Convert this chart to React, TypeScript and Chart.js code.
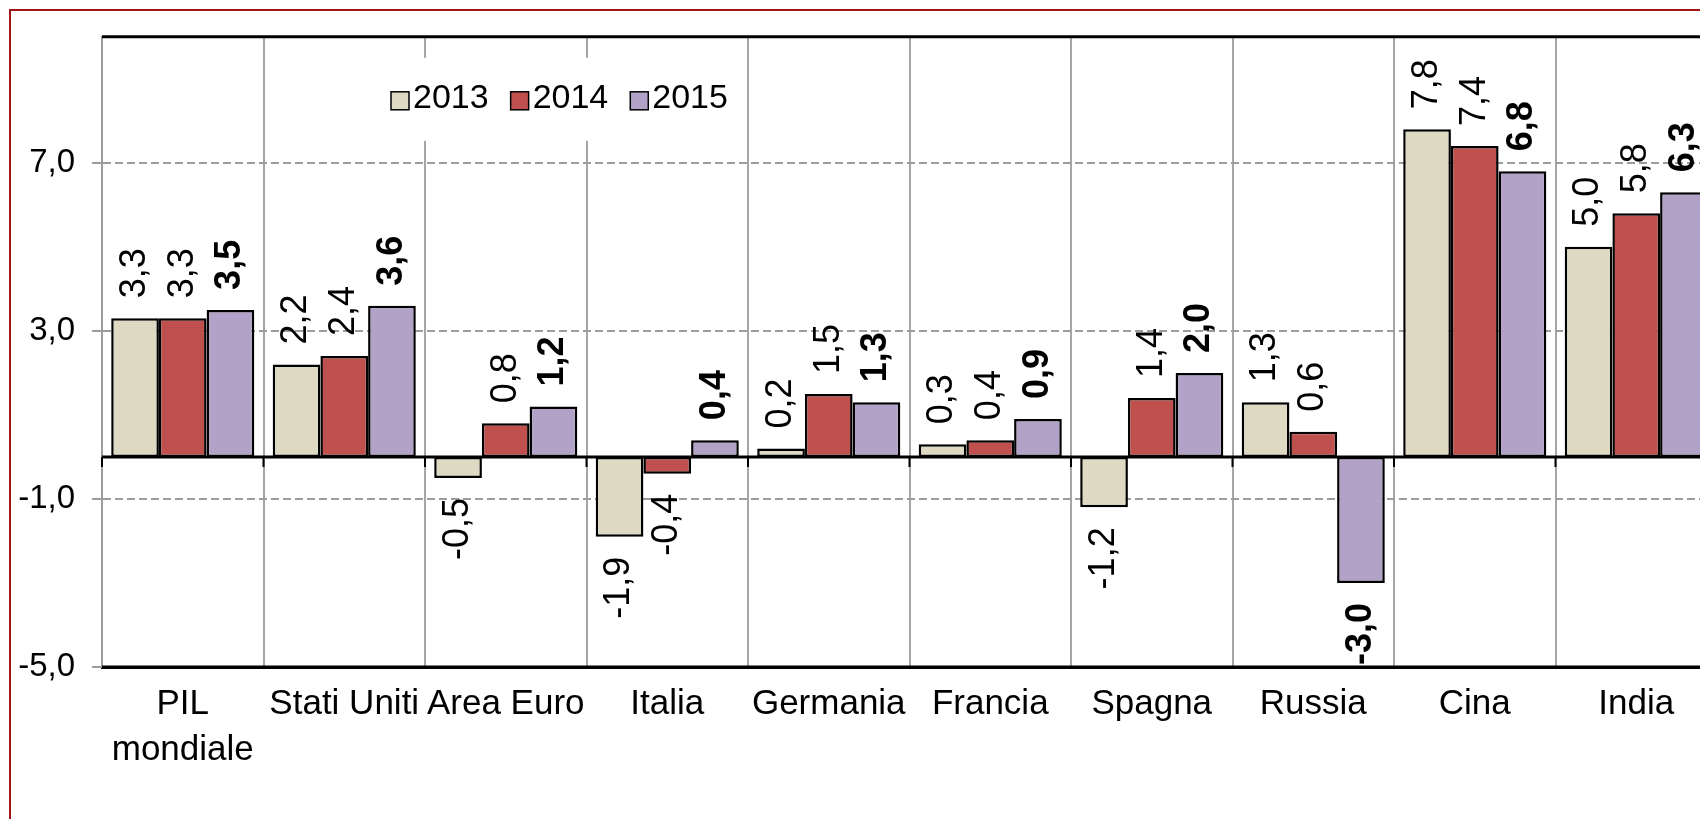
import React, { useEffect, useRef } from "react";
import { Chart, registerables } from "chart.js";

Chart.register(...registerables);

const FONT = '"Liberation Sans", Arial, Helvetica, sans-serif';

const categories: (string | string[])[] = [
  ["PIL", "mondiale"],
  "Stati Uniti",
  "Area Euro",
  "Italia",
  "Germania",
  "Francia",
  "Spagna",
  "Russia",
  "Cina",
  "India",
];
const seriesLabels = ["2013", "2014", "2015"];
const values2013 = [3.3, 2.2, -0.5, -1.9, 0.2, 0.3, -1.2, 1.3, 7.8, 5.0];
const values2014 = [3.3, 2.4, 0.8, -0.4, 1.5, 0.4, 1.4, 0.6, 7.4, 5.8];
const values2015 = [3.5, 3.6, 1.2, 0.4, 1.3, 0.9, 2.0, -3.0, 6.8, 6.3];
const seriesColors = ["#DDD9C3", "#C0504D", "#B3A2C7"];
const yTickValues = [-5, -1, 3, 7];
const yMin = -5;
const yMax = 10;

const fmt = (v: number) => v.toFixed(1).replace(".", ",");

const legendPlugin = {
  id: "customLegend",
  beforeDatasetsDraw(chart: any) {
    const { ctx, chartArea } = chart;
    ctx.save();
    ctx.fillStyle = "#ffffff";
    ctx.fillRect(chartArea.left + 278, chartArea.top + 21, 362, 83);
    let x = chartArea.left + 289;
    const cy = chartArea.top + 64;
    ctx.font = `34px ${FONT}`;
    chart.data.datasets.forEach((ds: any) => {
      ctx.fillStyle = ds.backgroundColor;
      ctx.fillRect(x, cy - 9, 18, 18);
      ctx.strokeStyle = "#000";
      ctx.lineWidth = 1.5;
      ctx.strokeRect(x, cy - 9, 18, 18);
      ctx.fillStyle = "#000";
      ctx.textAlign = "left";
      ctx.textBaseline = "alphabetic";
      ctx.fillText(ds.label, x + 22, chartArea.top + 71);
      x += 22 + ctx.measureText(ds.label).width + 22;
    });
    ctx.restore();
  },
};

const axesAndLabelsPlugin = {
  id: "axesAndLabels",
  afterDatasetsDraw(chart: any) {
    const { ctx, chartArea, scales } = chart;
    const xs = scales.x;
    const ys = scales.y;
    ctx.save();
    ctx.strokeStyle = "#000";
    ctx.lineWidth = 3;
    ctx.beginPath();
    ctx.moveTo(chartArea.left, chartArea.top);
    ctx.lineTo(chartArea.right, chartArea.top);
    ctx.moveTo(chartArea.left, chartArea.bottom);
    ctx.lineTo(chartArea.right, chartArea.bottom);
    ctx.stroke();
    const y0 = ys.getPixelForValue(0);
    ctx.beginPath();
    ctx.moveTo(chartArea.left, y0);
    ctx.lineTo(chartArea.right, y0);
    ctx.stroke();
    ctx.lineWidth = 2;
    ctx.beginPath();
    for (let i = 0; i <= categories.length; i++) {
      const bx = xs.getPixelForValue(i - 0.5);
      ctx.moveTo(bx, y0);
      ctx.lineTo(bx, y0 + 10);
    }
    ctx.stroke();

    chart.data.datasets.forEach((ds: any, di: number) => {
      const meta = chart.getDatasetMeta(di);
      meta.data.forEach((el: any, i: number) => {
        const v = ds.data[i];
        ctx.save();
        ctx.font = `${di === 2 ? "bold " : ""}36px ${FONT}`;
        ctx.fillStyle = "#000";
        ctx.textBaseline = "middle";
        const gap = 20;
        ctx.translate(el.x, v >= 0 ? el.y - gap : el.y + gap);
        ctx.rotate(-Math.PI / 2);
        ctx.textAlign = v >= 0 ? "left" : "right";
        ctx.fillText(fmt(v), 0, 0);
        ctx.restore();
      });
    });
    ctx.restore();
  },
};

export default function App() {
  const canvasRef = useRef<HTMLCanvasElement | null>(null);

  useEffect(() => {
    if (!canvasRef.current) return;
    Chart.defaults.font.family = FONT;
    const series = [values2013, values2014, values2015];
    const chart = new Chart(canvasRef.current, {
      type: "bar",
      data: {
        labels: categories as any,
        datasets: series.map((d, i) => ({
          label: seriesLabels[i],
          data: d,
          backgroundColor: seriesColors[i],
          borderColor: "#000",
          borderWidth: 2.5,
          borderSkipped: false,
          categoryPercentage: 0.886,
          barPercentage: 1,
        })),
      },
      options: {
        animation: false,
        responsive: false,
        devicePixelRatio: 1,
        layout: { padding: { top: 36, left: 0, right: 0, bottom: 0 } },
        plugins: {
          legend: { display: false },
          tooltip: { enabled: false },
        },
        scales: {
          x: {
            offset: true,
            grid: { offset: true, color: "#A6A6A6", lineWidth: 2, drawTicks: false },
            border: { display: true, color: "#000", width: 3 },
            ticks: {
              color: "#000",
              font: { size: 35, family: FONT, lineHeight: 1.3 },
              padding: 15,
              autoSkip: false,
              maxRotation: 0,
              minRotation: 0,
            },
            afterFit: (s: any) => {
              s.height = 152;
            },
          },
          y: {
            min: yMin,
            max: yMax,
            afterBuildTicks: (s: any) => {
              s.ticks = yTickValues.map((v) => ({ value: v }));
            },
            ticks: {
              color: "#000",
              font: { size: 33, family: FONT },
              padding: 17,
              callback: (v: any) => fmt(Number(v)),
            },
            grid: {
              color: "#9C9C9C",
              lineWidth: 2,
              tickLength: 10,
              tickColor: "#9C9C9C",
              tickWidth: 2,
              tickBorderDash: [],
            },
            border: { display: true, color: "#9C9C9C", width: 2, dash: [8, 4] },
            afterFit: (s: any) => {
              s.width = 102;
            },
          },
        },
      } as any,
      plugins: [legendPlugin, axesAndLabelsPlugin],
    });
    return () => chart.destroy();
  }, []);

  return (
    <div
      style={{
        position: "fixed",
        left: 0,
        top: 0,
        width: 1700,
        height: 819,
        overflow: "hidden",
        background: "#fff",
      }}
    >
      <div
        style={{
          position: "absolute",
          left: 9,
          top: 9,
          width: 1800,
          height: 900,
          border: "2px solid #A31515",
          boxSizing: "border-box",
        }}
      />
      <canvas
        ref={canvasRef}
        width={1717}
        height={819}
        style={{ position: "absolute", left: 0, top: 0, width: 1717, height: 819 }}
      />
    </div>
  );
}
